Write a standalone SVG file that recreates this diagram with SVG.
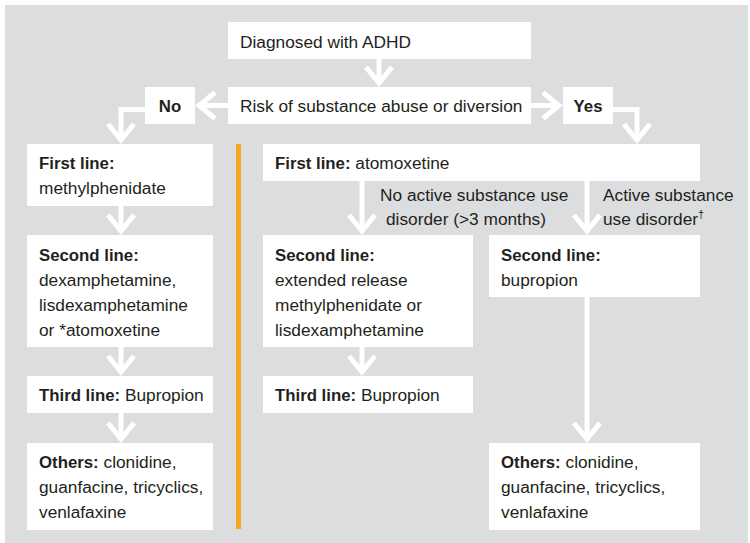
<svg xmlns="http://www.w3.org/2000/svg" width="750" height="543" viewBox="0 0 750 543">
<style>
.box{fill:#ffffff}
text{font-family:"Liberation Sans",Arial,sans-serif;font-size:17.3px;fill:#231f20}
.b{font-weight:bold;font-size:16.8px}
.conn{fill:none;stroke:#ffffff;stroke-width:5;stroke-linejoin:miter;marker-end:url(#ah)}
</style>
<defs>
<marker id="ah" markerUnits="userSpaceOnUse" viewBox="-25 -20 30 40" markerWidth="30" markerHeight="40" refX="0" refY="0" orient="auto" overflow="visible">
<path d="M-16,-13 L0,0 L-16,13" fill="none" stroke="#ffffff" stroke-width="5"/>
</marker>
</defs>
<rect x="0" y="0" width="750" height="543" fill="#ffffff"/>
<rect x="5" y="5" width="743" height="538" fill="#dcdddf"/>
<rect id="divider" x="236" y="144" width="5" height="385" fill="#f6a821"/>
<g id="connectors">
<path class="conn" d="M379,59 V83"/>
<path class="conn" d="M228,105.5 H199"/>
<path class="conn" d="M531,105.5 H559"/>
<path class="conn" d="M145,109.5 H121 V140"/>
<path class="conn" d="M613,109.5 H637 V140"/>
<path class="conn" d="M121,206 V231"/>
<path class="conn" d="M121,347 V372"/>
<path class="conn" d="M121,413 V439"/>
<path class="conn" d="M362,181 V231"/>
<path class="conn" d="M362,347 V372"/>
<path class="conn" d="M587,181 V231"/>
<path class="conn" d="M587,297 V439"/>
</g>
<g id="labels">
<text x="380" y="201">No active substance use</text>
<text x="386" y="225">disorder (&gt;3 months)</text>
<text x="603" y="201">Active substance</text>
<text x="603" y="225">use disorder<tspan font-size="11" dy="-7">†</tspan></text>
</g>
<g id="diagnosed">
<rect class="box" x="228" y="22" width="303" height="37"/>
<text x="240" y="48">Diagnosed with ADHD</text>
</g>
<g id="risk">
<rect class="box" x="228" y="87" width="303" height="37"/>
<text x="240" y="112">Risk of substance abuse or diversion</text>
</g>
<g id="no">
<rect class="box" x="145" y="87" width="50" height="37"/>
<text class="b" x="170" y="112" text-anchor="middle">No</text>
</g>
<g id="yes">
<rect class="box" x="563" y="87" width="50" height="37"/>
<text class="b" x="588" y="112" text-anchor="middle">Yes</text>
</g>
<g id="left-first">
<rect class="box" x="27" y="144" width="186" height="62"/>
<text x="39" y="169"><tspan class="b">First line:</tspan></text>
<text x="39" y="194">methylphenidate</text>
</g>
<g id="left-second">
<rect class="box" x="27" y="235" width="186" height="112"/>
<text x="39" y="261"><tspan class="b">Second line:</tspan></text>
<text x="39" y="286">dexamphetamine,</text>
<text x="39" y="311">lisdexamphetamine</text>
<text x="39" y="336">or *atomoxetine</text>
</g>
<g id="left-third">
<rect class="box" x="27" y="376" width="186" height="37"/>
<text x="39" y="401"><tspan class="b">Third line:</tspan> Bupropion</text>
</g>
<g id="left-others">
<rect class="box" x="27" y="443" width="186" height="87"/>
<text x="39" y="468"><tspan class="b">Others:</tspan> clonidine,</text>
<text x="39" y="493">guanfacine, tricyclics,</text>
<text x="39" y="518">venlafaxine</text>
</g>
<g id="right-first">
<rect class="box" x="263" y="144" width="437" height="37"/>
<text x="275" y="169"><tspan class="b">First line:</tspan> atomoxetine</text>
</g>
<g id="right-second-a">
<rect class="box" x="263" y="235" width="210" height="112"/>
<text x="275" y="261"><tspan class="b">Second line:</tspan></text>
<text x="275" y="286">extended release</text>
<text x="275" y="311">methylphenidate or</text>
<text x="275" y="336">lisdexamphetamine</text>
</g>
<g id="right-third">
<rect class="box" x="263" y="376" width="210" height="37"/>
<text x="275" y="401"><tspan class="b">Third line:</tspan> Bupropion</text>
</g>
<g id="right-second-b">
<rect class="box" x="489" y="235" width="211" height="62"/>
<text x="501" y="261"><tspan class="b">Second line:</tspan></text>
<text x="501" y="286">bupropion</text>
</g>
<g id="right-others">
<rect class="box" x="489" y="443" width="211" height="87"/>
<text x="501" y="468"><tspan class="b">Others:</tspan> clonidine,</text>
<text x="501" y="493">guanfacine, tricyclics,</text>
<text x="501" y="518">venlafaxine</text>
</g>
</svg>
